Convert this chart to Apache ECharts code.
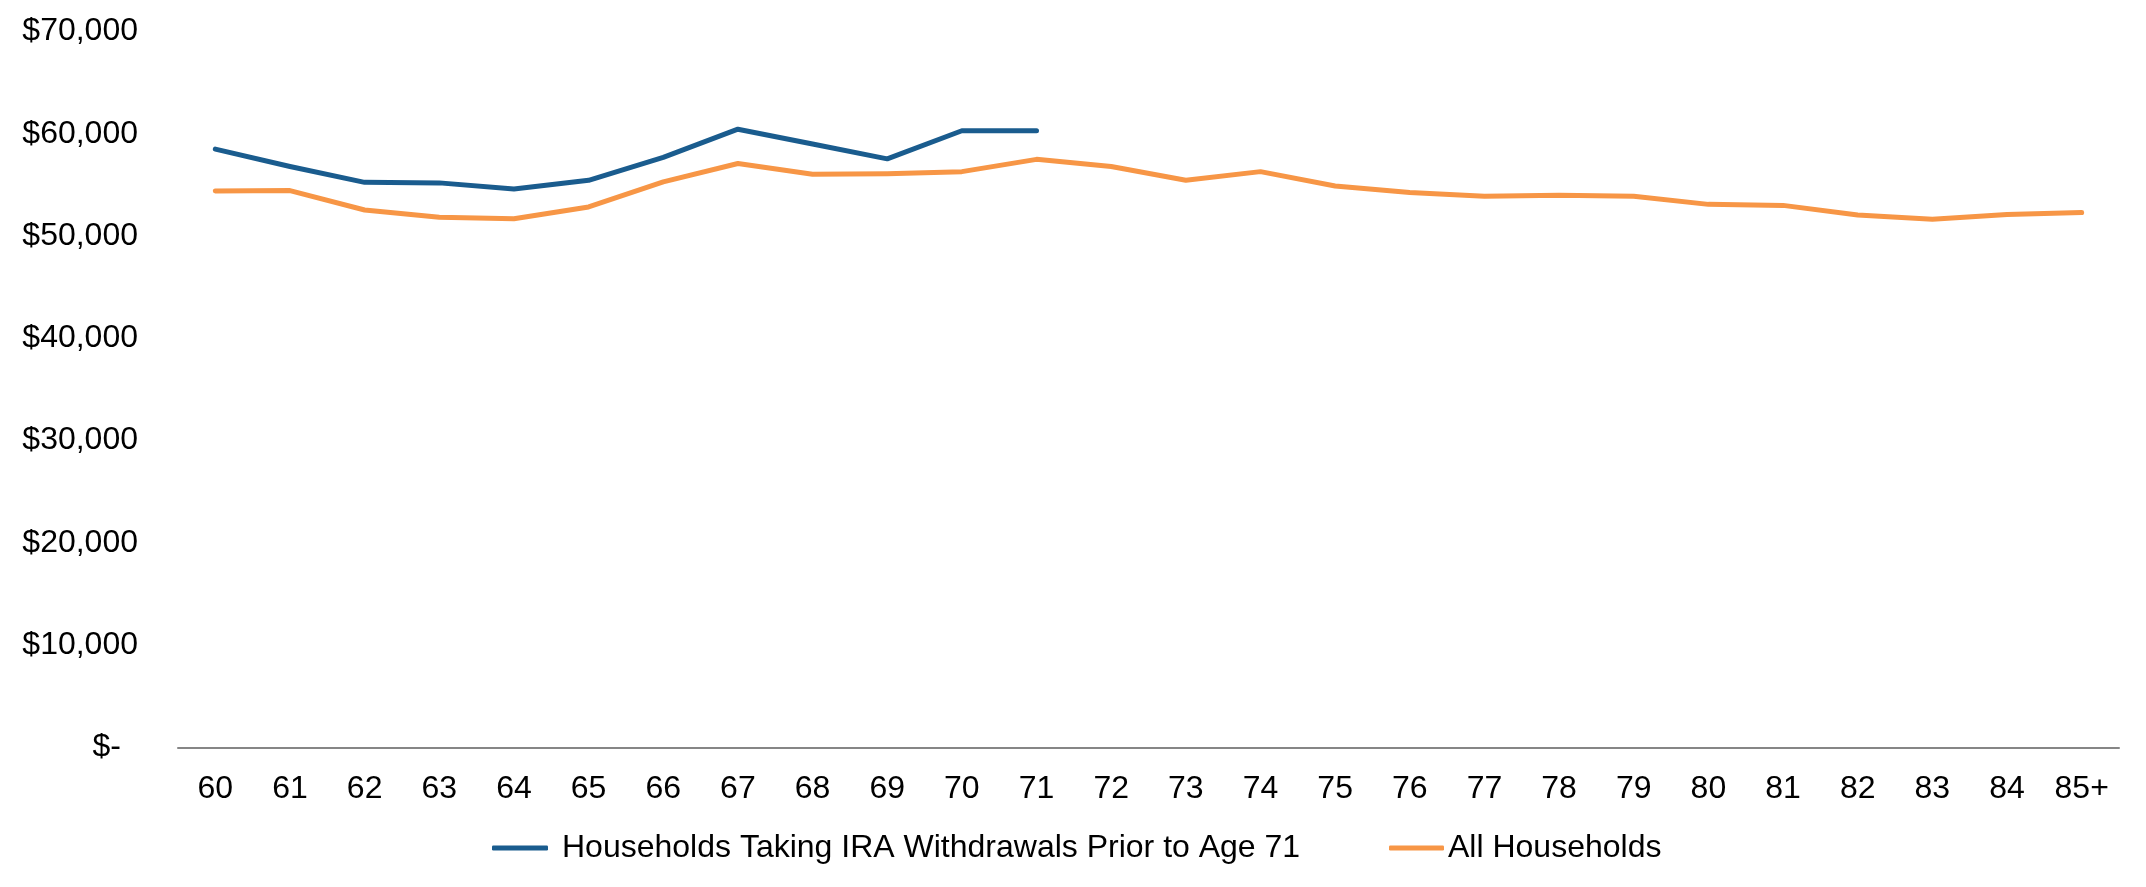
<!DOCTYPE html>
<html>
<head>
<meta charset="utf-8">
<script src="https://cdn.jsdelivr.net/npm/echarts@6/dist/echarts.min.js"></script>
<style>
html,body{margin:0;padding:0;background:#fff;}
#chart{width:2146px;height:887px;}
</style>
</head>
<body>
<div id="chart"></div>
<script>
var categories = ['60','61','62','63','64','65','66','67','68','69','70','71','72','73','74','75','76','77','78','79','80','81','82','83','84','85+'];
var seriesNames = ['Households Taking IRA Withdrawals Prior to Age 71', 'All Households'];
var iraWithdrawals = [58500, 56800, 55250, 55200, 54600, 55450, 57700, 60450, 59000, 57550, 60300, 60300,
  null, null, null, null, null, null, null, null, null, null, null, null, null, null];
var allHouseholds = [54400, 54450, 52550, 51850, 51700, 52850, 55300, 57100, 56050, 56100, 56300, 57500,
  56800, 55450, 56300, 54900, 54250, 53900, 54000, 53900, 53100, 53000, 52050, 51650, 52100, 52300];
var yTicks = [0, 10000, 20000, 30000, 40000, 50000, 60000, 70000];

var chart = echarts.init(document.getElementById('chart'), null, {renderer: 'canvas'});
var font = 'Liberation Sans, Arial, sans-serif';
function fmt(v) {
  if (v === 0) return '{z|$-}';
  return '$' + v.toString().replace(/\B(?=(\d{3})+(?!\d))/g, ',');
}
chart.setOption({
  animation: false,
  backgroundColor: '#ffffff',
  grid: {left: 178, right: 27, top: 31.5, bottom: 139.5, containLabel: false},
  xAxis: {
    type: 'category',
    data: categories,
    boundaryGap: true,
    axisLine: {show: true, lineStyle: {color: '#868686', width: 2}},
    axisTick: {show: false},
    axisLabel: {color: '#000', fontFamily: font, fontSize: 32, margin: 26}
  },
  yAxis: {
    type: 'value',
    min: yTicks[0],
    max: yTicks[yTicks.length - 1],
    interval: 10000,
    splitLine: {show: false},
    axisLine: {show: false},
    axisTick: {show: false},
    axisLabel: {
      color: '#000', fontFamily: font, fontSize: 32, margin: 40,
      formatter: fmt,
      rich: {z: {color: '#000', fontFamily: font, fontSize: 32, padding: [0, 17, 0, 0]}}
    }
  },
  legend: [{
    data: [seriesNames[0]],
    left: 492, top: 832, padding: 0,
    itemWidth: 56, itemHeight: 5,
    icon: 'roundRect',
    textStyle: {color: '#000', fontFamily: font, fontSize: 32, padding: [0, 0, 0, 9]}
  }, {
    data: [seriesNames[1]],
    left: 1389, top: 832, padding: 0,
    itemWidth: 55, itemHeight: 5,
    icon: 'roundRect',
    textStyle: {color: '#000', fontFamily: font, fontSize: 32, padding: [0, 0, 0, -1]}
  }],
  series: [{
    name: seriesNames[0],
    type: 'line',
    data: iraWithdrawals,
    color: '#1A5C8E',
    showSymbol: false,
    symbol: 'none',
    lineStyle: {width: 5, color: '#1A5C8E', cap: 'round', join: 'round'}
  }, {
    name: seriesNames[1],
    type: 'line',
    data: allHouseholds,
    color: '#F79646',
    showSymbol: false,
    symbol: 'none',
    lineStyle: {width: 5, color: '#F79646', cap: 'round', join: 'round'}
  }]
});
</script>
</body>
</html>
